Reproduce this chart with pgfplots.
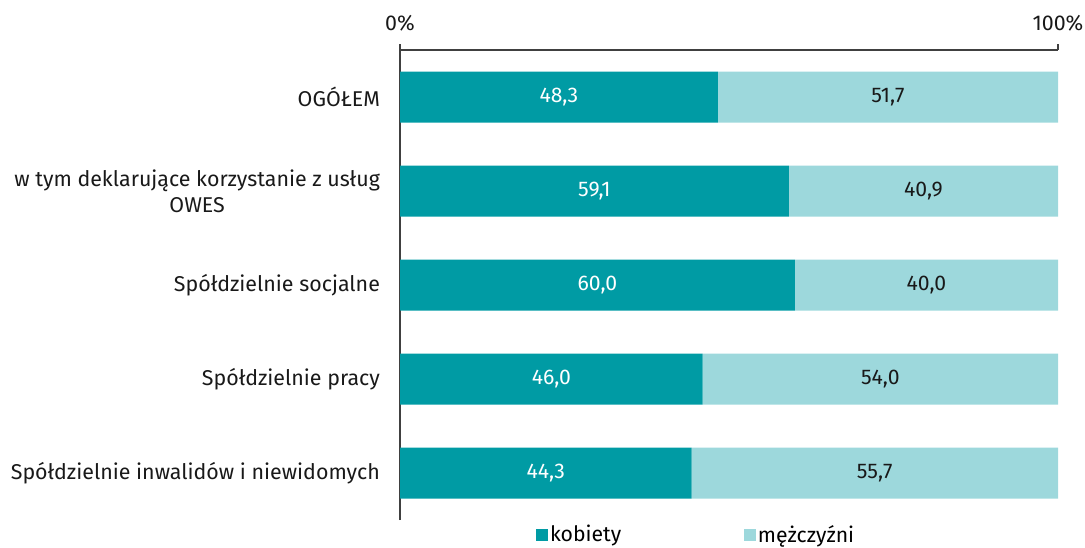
\documentclass[border=0pt]{standalone}
\usepackage{fontspec}
\setmainfont{Fira Sans}
\usepackage{pgfplots}
\usepackage{pgfplotstable}
\pgfplotsset{compat=1.18}
\definecolor{kob}{HTML}{009BA4}
\definecolor{mez}{HTML}{9DD8DC}
\pgfplotstableread{
y kob mez
4 48.3 51.7
3 59.1 40.9
2 60.0 40.0
1 46.0 54.0
0 44.3 55.7
}\data
\begin{document}
\begin{tikzpicture}
\useasboundingbox (0,0) rectangle (542.5pt,273.5pt);
\begin{axis}[
  at={(200pt,13.5pt)}, anchor=south west,
  scale only axis, width=329pt, height=235pt,
  xbar stacked, bar width=25.5pt,
  xmin=0, xmax=100, ymin=-0.5, ymax=4.5,
  axis x line*=top, axis y line*=left,
  axis line style={black!75, line width=0.6pt},
  xtick={0,100}, xticklabels={0\%,100\%},
  xtick align=outside, major tick length=3pt,
  x tick style={black!75, line width=0.6pt},
  xticklabel style={yshift=3pt},
  ytick={0,1,2,3,4},
  yticklabels={Spółdzielnie inwalidów i niewidomych, Spółdzielnie pracy, Spółdzielnie socjalne, {w tym deklarujące korzystanie z usług\\OWES}, OGÓŁEM},
  y tick style={draw=none},
  yticklabel style={align=center, xshift=-6.5pt},
  /pgf/number format/assume math mode=true,
  tick label style={font=\fontsize{10.7}{13.2}\selectfont, text=black!90},
  point meta=explicit,
  nodes near coords={\pgfmathprintnumber[fixed,fixed zerofill,precision=1,use comma]{\pgfplotspointmeta}},
  every node near coord/.append style={anchor=center, font=\fontsize{10.6}{12}\selectfont},
  legend columns=2,
  legend style={draw=none, at={(0.45,-0.032)}, anchor=center, font=\fontsize{10.6}{12}\selectfont,
    /tikz/every even column/.append style={column sep=60pt}, nodes={inner sep=1.2pt}},
  legend image code/.code={\fill[#1] (0pt,-3pt) rectangle (6pt,3pt);},
]
\addplot[fill=kob, draw=none, every node near coord/.append style={text=white}] table[x=kob, y=y, meta=kob] {\data};
\addplot[fill=mez, draw=none, every node near coord/.append style={text=black!90}] table[x=mez, y=y, meta=mez] {\data};
\legend{kobiety, mężczyźni}
\end{axis}
\end{tikzpicture}
\end{document}
